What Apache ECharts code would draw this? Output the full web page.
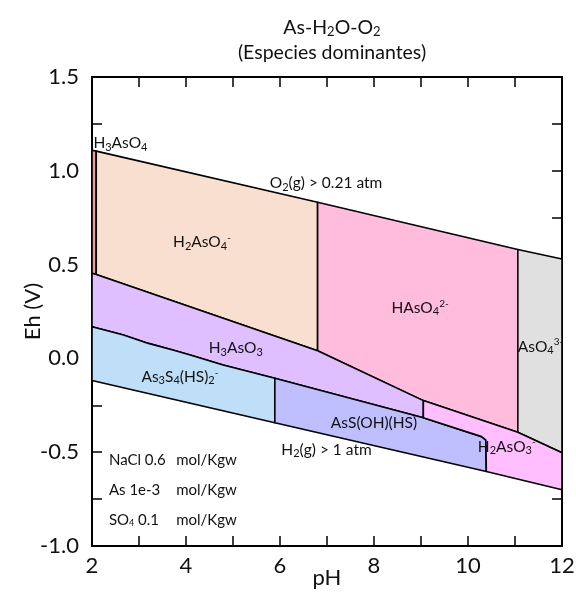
<!DOCTYPE html>
<html>
<head>
<meta charset="utf-8">
<script src="https://cdn.jsdelivr.net/npm/echarts@6/dist/echarts.min.js"></script>
<style>
  html, body { margin: 0; padding: 0; background: #fff; }
  #chart { width: 576px; height: 595px; }
</style>
</head>
<body>
<div id="chart"></div>
<script>
// Eh–pH predominance diagram for As-H2O-O2 (pH, Eh in volts)

// Axis ticks
const pHTicks = [2, 4, 6, 8, 10, 12];
const ehTicks = [-1.0, -0.5, 0.0, 0.5, 1.0, 1.5];

// Stability field outlines, vertices as [pH, Eh]
const fieldH3AsO4 = [[2, 1.11], [2.09, 1.105], [2.09, 0.447], [2, 0.454]];
const fieldH2AsO4 = [[2.09, 1.105], [6.8, 0.832], [6.8, 0.041], [2.09, 0.447]];
const fieldHAsO4 = [[6.8, 0.832], [11.06, 0.58], [11.06, -0.394], [9.05, -0.225], [6.8, 0.041]];
const fieldAsO4 = [[11.06, 0.58], [12, 0.53], [12, -0.503], [11.06, -0.394]];
const fieldH3AsO3 = [[2, 0.454], [2.09, 0.447], [6.8, 0.041], [9.05, -0.225], [9.05, -0.316],
  [5.89, -0.106], [4.79, -0.035], [4.09, 0.018], [3.72, 0.045], [3.2, 0.08],
  [2.67, 0.125], [2.49, 0.137], [2, 0.169]];
const fieldAs3S4 = [[2, 0.169], [2.49, 0.137], [2.67, 0.125], [3.2, 0.08], [3.72, 0.045],
  [4.09, 0.018], [4.79, -0.035], [5.89, -0.106], [5.89, -0.343], [2, -0.118]];
const fieldAsSOHHS = [[5.89, -0.106], [9.05, -0.316], [10.29, -0.417], [10.38, -0.435],
  [10.39, -0.603], [5.89, -0.343]];
const fieldH2AsO3 = [[9.05, -0.225], [11.06, -0.394], [12, -0.503], [12, -0.70],
  [10.39, -0.603], [10.38, -0.435], [10.29, -0.417], [9.05, -0.316]];

const fields = [fieldH3AsO4, fieldH2AsO4, fieldHAsO4, fieldAsO4,
  fieldH3AsO3, fieldAs3S4, fieldAsSOHHS, fieldH2AsO3];
const fieldColors = ['#ee9f9f', '#f8dfd0', '#ffbcdd', '#e0e0e0',
  '#dfbfff', '#bfdff9', '#bfbfff', '#ffbfff'];

// Species / boundary labels (rich text) and their anchors [pH, Eh]
const labelTexts = [
  'H{s|3}AsO{s|4}',
  'H{s|2}AsO{s|4}{p|-}',
  'O{s|2}(g) > 0.21 atm',
  'HAsO{s|4}{p|2-}',
  'AsO{s|4}{p|3-}',
  'H{s|3}AsO{s|3}',
  'As{s|3}S{s|4}(HS){s|2}{p|-}',
  'AsS(OH)(HS)',
  'H{s|2}(g) > 1 atm',
  'H{s|2}AsO{s|3}{p|-}'
];
const labelAnchors = [
  [2.03, 1.148], [4.34, 0.62], [6.98, 0.935], [8.98, 0.269], [11.06, 0.062],
  [5.06, 0.054], [3.87, -0.098], [8.0, -0.346], [6.99, -0.488], [10.21, -0.471]
];
const labelAlign = ['left', 'center', 'center', 'center', 'left',
  'center', 'center', 'center', 'center', 'left'];

// System composition note
const noteSpecies = ['NaCl 0.6', 'As 1e-3', 'SO{t|4} 0.1'];
const noteUnits = ['mol/Kgw', 'mol/Kgw', 'mol/Kgw'];
const noteEh = [-0.543, -0.702, -0.862];
const notePH = [2.36, 3.79];

const FAMILY = 'Lato, "Open Sans", sans-serif';
const RICH = {
  s: { font: '11px ' + FAMILY, fill: '#111', padding: [8, 0, 0, 0] },
  p: { font: '10px ' + FAMILY, fill: '#111', padding: [0, 0, 9, 0] },
  t: { font: '9px ' + FAMILY, fill: '#111', padding: [6, 0, 0, 0] }
};

const labelData = labelAnchors.map((a, i) => [a[0], a[1], i]);
const noteData = [];
noteEh.forEach((eh, i) => {
  noteData.push([notePH[0], eh, noteSpecies[i]]);
  noteData.push([notePH[1], eh, noteUnits[i]]);
});

const chart = echarts.init(document.getElementById('chart'), null, { renderer: 'canvas' });

const axisLineStyle = { color: '#000', width: 2 };
const tickStyle = { color: '#000', width: 1.5 };

chart.setOption({
  animation: false,
  backgroundColor: '#fff',
  title: {
    text: '{n|As-H}{s|2}{n|O-O}{s|2}\n{n|(Especies dominantes)}',
    left: 327,
    top: 10,
    textAlign: 'center',
    textStyle: {
      fontFamily: FAMILY, fontSize: 19, fontWeight: 'normal', color: '#111', lineHeight: 25,
      rich: {
        n: { fontFamily: FAMILY, fontSize: 19.5, color: '#111', lineHeight: 25 },
        s: { fontFamily: FAMILY, fontSize: 13, color: '#111', lineHeight: 25, padding: [9, 0, 0, 0] }
      }
    }
  },
  grid: { left: 92, right: 14, top: 77, bottom: 49, outerBoundsMode: 'none', containLabel: false },
  xAxis: [{
    type: 'value', min: 2, max: 12, interval: 1,
    name: 'pH', nameLocation: 'middle', nameGap: 21, nameMoveOverlap: false,
    nameTextStyle: { fontFamily: FAMILY, fontSize: 22, color: '#111' },
    axisLine: { show: true, onZero: false, lineStyle: axisLineStyle },
    axisTick: { show: true, inside: true, length: 10, lineStyle: tickStyle },
    axisLabel: {
      fontFamily: FAMILY, fontSize: 22, color: '#111', margin: 9,
      formatter: v => (pHTicks.indexOf(v) >= 0 ? String(v) : '')
    },
    splitLine: { show: false }
  }, {
    type: 'value', min: 2, max: 12, interval: 1, position: 'top',
    axisLine: { show: true, onZero: false, lineStyle: axisLineStyle },
    axisTick: { show: true, inside: true, length: 10, lineStyle: tickStyle },
    axisLabel: { show: false },
    splitLine: { show: false }
  }],
  yAxis: [{
    type: 'value', min: -1, max: 1.5, interval: 0.25,
    name: 'Eh (V)', nameLocation: 'middle', nameGap: 48, nameRotate: 90, nameMoveOverlap: false,
    nameTextStyle: { fontFamily: FAMILY, fontSize: 22, color: '#111' },
    axisLine: { show: true, onZero: false, lineStyle: axisLineStyle },
    axisTick: { show: true, inside: true, length: 10, lineStyle: tickStyle },
    axisLabel: {
      fontFamily: FAMILY, fontSize: 22, color: '#111', margin: 13,
      formatter: v => {
        const hit = ehTicks.find(t => Math.abs(t - v) < 1e-6);
        return hit === undefined ? '' : hit.toFixed(1);
      }
    },
    splitLine: { show: false }
  }, {
    type: 'value', min: -1, max: 1.5, interval: 0.25, position: 'right',
    axisLine: { show: true, onZero: false, lineStyle: axisLineStyle },
    axisTick: { show: true, inside: true, length: 10, lineStyle: tickStyle },
    axisLabel: { show: false },
    splitLine: { show: false }
  }],
  series: [{
    // stability fields
    type: 'custom',
    xAxisIndex: 0, yAxisIndex: 0,
    data: fields.map((f, i) => [f[0][0], f[0][1], i]),
    renderItem: (params, api) => {
      const idx = api.value(2);
      const pts = fields[idx].map(p => api.coord(p));
      return {
        type: 'polygon',
        shape: { points: pts },
        style: { fill: fieldColors[idx], stroke: '#000', lineWidth: 1.6, lineJoin: 'round' }
      };
    },
    silent: true,
    z: 1
  }, {
    // species labels
    type: 'custom',
    xAxisIndex: 0, yAxisIndex: 0,
    data: labelData,
    renderItem: (params, api) => {
      const idx = api.value(2);
      const p = api.coord([api.value(0), api.value(1)]);
      return {
        type: 'text',
        x: p[0], y: p[1],
        style: {
          text: labelTexts[idx],
          rich: RICH,
          font: '15.5px ' + FAMILY, fill: '#111',
          align: labelAlign[idx], verticalAlign: 'middle'
        }
      };
    },
    silent: true,
    z: 3
  }, {
    // composition note
    type: 'custom',
    xAxisIndex: 0, yAxisIndex: 0,
    data: noteData,
    dimensions: ['x', 'y', { name: 'txt', type: 'ordinal' }],
    renderItem: (params, api) => {
      const d = noteData[params.dataIndex];
      const p = api.coord([d[0], d[1]]);
      return {
        type: 'text',
        x: p[0], y: p[1],
        style: {
          text: d[2],
          rich: RICH,
          font: '15px ' + FAMILY, fill: '#111',
          align: 'left', verticalAlign: 'middle'
        }
      };
    },
    silent: true,
    z: 3
  }]
});
</script>
</body>
</html>
